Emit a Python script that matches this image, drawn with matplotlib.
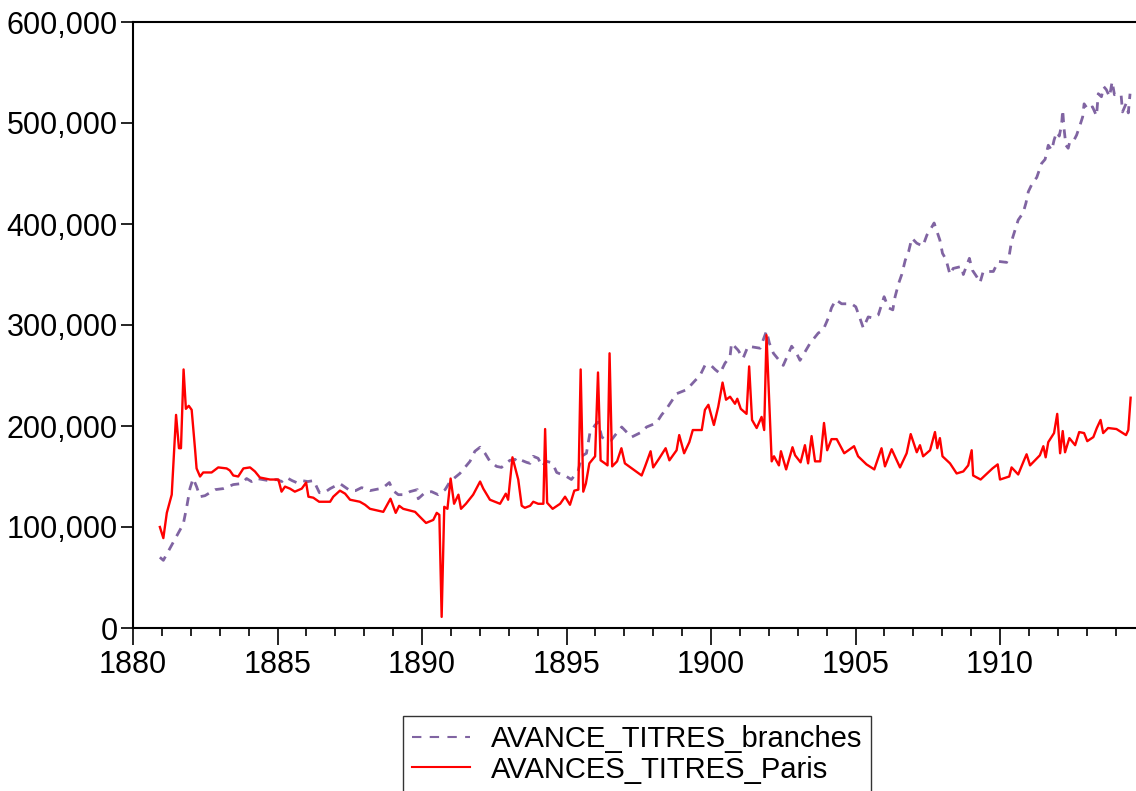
import numpy as np
import matplotlib
matplotlib.use("Agg")
import matplotlib.pyplot as plt
from matplotlib.ticker import FuncFormatter, MultipleLocator

plt.rcParams['font.family'] = ['Liberation Sans', 'DejaVu Sans']

# monthly advances on securities, thousands of francs
paris_years = [1880.93, 1881.05, 1881.17, 1881.34, 1881.49, 1881.59, 1881.66, 1881.75, 1881.83, 1881.93,
               1882.03, 1882.15, 1882.20, 1882.32, 1882.43, 1882.72, 1882.95, 1883.24, 1883.35, 1883.47,
               1883.64, 1883.82, 1884.05, 1884.22, 1884.39, 1884.74, 1885.03, 1885.14, 1885.26, 1885.43,
               1885.60, 1885.84, 1885.99, 1886.07, 1886.24, 1886.44, 1886.64, 1886.82, 1886.93, 1887.16,
               1887.34, 1887.51, 1887.85, 1888.03, 1888.20, 1888.66, 1888.91, 1889.09, 1889.21, 1889.35,
               1889.76, 1889.93, 1890.14, 1890.39, 1890.51, 1890.60, 1890.68, 1890.77, 1890.88, 1890.99,
               1891.11, 1891.26, 1891.35, 1891.52, 1891.77, 1892.01, 1892.12, 1892.35, 1892.70, 1892.90,
               1892.98, 1893.13, 1893.33, 1893.45, 1893.56, 1893.74, 1893.85, 1894.02, 1894.20, 1894.26,
               1894.33, 1894.52, 1894.78, 1894.95, 1895.12, 1895.27, 1895.41, 1895.49, 1895.58, 1895.67,
               1895.79, 1895.99, 1896.09, 1896.18, 1896.33, 1896.42, 1896.49, 1896.58, 1896.75, 1896.90,
               1897.02, 1897.31, 1897.60, 1897.72, 1897.91, 1898.00, 1898.21, 1898.43, 1898.56, 1898.81,
               1898.90, 1899.07, 1899.25, 1899.37, 1899.68, 1899.79, 1899.91, 1900.10, 1900.25, 1900.40,
               1900.52, 1900.66, 1900.83, 1900.91, 1901.03, 1901.23, 1901.32, 1901.42, 1901.58, 1901.75,
               1901.84, 1901.92, 1902.10, 1902.18, 1902.35, 1902.42, 1902.60, 1902.82, 1902.91, 1903.10,
               1903.25, 1903.36, 1903.48, 1903.60, 1903.78, 1903.91, 1904.02, 1904.17, 1904.35, 1904.61,
               1904.95, 1905.09, 1905.38, 1905.65, 1905.90, 1906.02, 1906.25, 1906.54, 1906.77, 1906.91,
               1907.12, 1907.23, 1907.34, 1907.58, 1907.75, 1907.83, 1907.92, 1908.01, 1908.27, 1908.50,
               1908.73, 1908.90, 1909.02, 1909.07, 1909.33, 1909.74, 1909.92, 1910.00, 1910.32, 1910.40,
               1910.63, 1910.83, 1910.92, 1911.04, 1911.38, 1911.50, 1911.58, 1911.67, 1911.87, 1911.98,
               1912.08, 1912.17, 1912.25, 1912.40, 1912.60, 1912.74, 1912.91, 1913.02, 1913.23, 1913.35,
               1913.48, 1913.57, 1913.74, 1914.03, 1914.36, 1914.44, 1914.52]
paris_vals = [100, 89, 114, 132, 211, 178, 178, 256, 217, 220,
              216, 176, 158, 150, 154, 154, 159, 158, 156, 151,
              150, 158, 159, 155, 149, 147, 147, 135, 140, 138,
              135, 138, 144, 130, 129, 125, 125, 125, 130, 136,
              133, 127, 125, 122, 118, 115, 128, 114, 121, 118,
              115, 110, 104, 107, 114, 112, 11, 120, 118, 148,
              123, 132, 118, 123, 132, 145, 138, 127, 123, 133,
              127, 169, 147, 121, 119, 121, 125, 123, 123, 197,
              124, 118, 123, 130, 122, 136, 137, 256, 135, 143,
              163, 170, 253, 166, 163, 161, 272, 160, 165, 178,
              163, 157, 151, 160, 175, 159, 168, 178, 166, 176,
              191, 173, 184, 196, 196, 216, 221, 201, 219, 243,
              226, 229, 222, 227, 217, 212, 259, 206, 198, 209,
              196, 290, 165, 170, 161, 175, 157, 179, 171, 164,
              181, 163, 190, 165, 165, 203, 176, 187, 187, 173,
              180, 170, 162, 157, 178, 160, 177, 159, 173, 192,
              174, 181, 170, 176, 194, 178, 188, 170, 163, 153,
              155, 161, 176, 151, 147, 158, 162, 147, 150, 159,
              152, 166, 172, 161, 171, 180, 169, 184, 193, 212,
              173, 195, 174, 188, 181, 194, 193, 185, 189, 198,
              206, 193, 198, 197, 191, 196, 228]

branch_years = [1880.93, 1881.05, 1881.28, 1881.57, 1881.74, 1881.86, 1881.97, 1882.08, 1882.20, 1882.32,
                1882.49, 1882.66, 1882.84, 1883.12, 1883.29, 1883.47, 1883.76, 1883.93, 1884.10, 1884.28,
                1884.68, 1884.97, 1885.15, 1885.31, 1885.50, 1885.66, 1885.83, 1886.05, 1886.26, 1886.35,
                1886.45, 1886.62, 1886.82, 1887.16, 1887.51, 1887.70, 1887.91, 1888.20, 1888.55, 1888.70,
                1888.87, 1889.00, 1889.18, 1889.40, 1889.58, 1889.84, 1889.87, 1890.10, 1890.33, 1890.56,
                1890.80, 1890.97, 1891.31, 1891.66, 1891.83, 1892.01, 1892.18, 1892.35, 1892.58, 1892.75,
                1892.87, 1893.04, 1893.22, 1893.32, 1893.45, 1893.62, 1893.74, 1893.85, 1894.02, 1894.15,
                1894.31, 1894.45, 1894.55, 1894.66, 1895.00, 1895.17, 1895.41, 1895.52, 1895.69, 1895.81,
                1895.99, 1896.10, 1896.22, 1896.39, 1896.55, 1896.74, 1896.91, 1897.08, 1897.25, 1897.60,
                1897.77, 1898.11, 1898.29, 1898.46, 1898.81, 1899.16, 1899.45, 1899.62, 1899.79, 1900.00,
                1900.14, 1900.31, 1900.48, 1900.66, 1900.71, 1900.94, 1901.11, 1901.28, 1901.70, 1901.92,
                1902.02, 1902.16, 1902.50, 1902.79, 1902.96, 1903.08, 1903.43, 1903.71, 1903.88, 1904.06,
                1904.17, 1904.32, 1904.52, 1904.86, 1905.01, 1905.15, 1905.27, 1905.44, 1905.59, 1905.79,
                1905.99, 1906.14, 1906.29, 1906.37, 1906.49, 1906.60, 1906.72, 1906.84, 1906.95, 1907.12,
                1907.33, 1907.47, 1907.58, 1907.72, 1907.92, 1908.01, 1908.13, 1908.27, 1908.38, 1908.67,
                1908.73, 1908.94, 1909.05, 1909.19, 1909.31, 1909.42, 1909.77, 1909.94, 1910.23, 1910.32,
                1910.40, 1910.52, 1910.63, 1910.80, 1910.90, 1910.98, 1911.13, 1911.27, 1911.44, 1911.56,
                1911.67, 1911.79, 1911.87, 1911.96, 1912.05, 1912.13, 1912.17, 1912.21, 1912.28, 1912.36,
                1912.42, 1912.56, 1912.65, 1912.77, 1912.86, 1912.91, 1913.05, 1913.20, 1913.34, 1913.40,
                1913.51, 1913.59, 1913.68, 1913.79, 1913.88, 1913.96, 1914.07, 1914.19, 1914.24, 1914.36,
                1914.44, 1914.50]
branch_vals = [70, 67, 79, 94, 103, 120, 138, 148, 140, 130,
               131, 134, 137, 138, 140, 142, 143, 148, 145, 148,
               146, 147, 145, 149, 146, 144, 146, 145, 146, 140,
               134, 134, 138, 143, 136, 136, 139, 136, 138, 140,
               144, 136, 132, 132, 135, 137, 128, 134, 135, 132,
               137, 145, 153, 165, 175, 179, 173, 165, 160, 159,
               162, 166, 167, 164, 166, 164, 163, 170, 168, 160,
               165, 164, 161, 154, 150, 147, 156, 170, 173, 193,
               201, 204, 189, 186, 186, 193, 199, 194, 189, 194,
               199, 203, 211, 217, 232, 236, 245, 250, 260, 260,
               256, 252, 262, 269, 282, 275, 267, 279, 277, 294,
               282, 272, 260, 279, 272, 265, 282, 292, 295, 307,
               317, 325, 321, 321, 318, 307, 297, 308, 307, 310,
               328, 317, 315, 328, 341, 350, 364, 373, 386, 381,
               378, 389, 394, 401, 384, 371, 365, 350, 356, 358,
               350, 366, 354, 348, 342, 353, 353, 363, 362, 369,
               383, 394, 404, 411, 421, 432, 441, 446, 460, 464,
               478, 473, 483, 491, 487, 498, 513, 496, 478, 475,
               482, 483, 488, 498, 506, 519, 513, 516, 507, 529,
               526, 536, 533, 526, 541, 528, 529, 528, 511, 519,
               510, 529]

fig = plt.figure(figsize=(11.36, 7.91), dpi=100)
# plot area runs off the right edge of the figure
ax = fig.add_axes([133 / 1136, 163 / 791, (1142 - 133) / 1136, (628 - 22) / 791])

ax.plot(branch_years, np.array(branch_vals) * 1000, color='#8064A2', lw=2.0,
        dashes=(3.2, 2.6), label='AVANCE_TITRES_branches')
ax.plot(paris_years, np.array(paris_vals) * 1000, color='#FF0000', lw=1.7,
        label='AVANCES_TITRES_Paris')

ax.set_xlim(1880, 1880 + (1142 - 133) / 28.9)
ax.set_ylim(0, 600000)
ax.xaxis.set_major_locator(MultipleLocator(5))
ax.xaxis.set_minor_locator(MultipleLocator(1))
ax.yaxis.set_major_locator(MultipleLocator(100000))
ax.yaxis.set_major_formatter(FuncFormatter(lambda v, p: f"{int(v):,}"))

for side in ['left', 'top', 'bottom']:
    ax.spines[side].set_linewidth(1.5)
ax.spines['right'].set_visible(False)
ax.tick_params(axis='both', which='major', direction='out', labelsize=22, width=1.2)
ax.tick_params(axis='x', which='major', length=12, pad=4)
ax.tick_params(axis='x', which='minor', length=6, width=1.2)
ax.tick_params(axis='y', which='major', length=9, pad=2)

leg = fig.legend(loc='upper center', bbox_to_anchor=(637 / 1136, 1 - 716 / 791),
                 fontsize=21, frameon=True, fancybox=False, handlelength=2.0,
                 handletextpad=0.7, borderpad=0.3, labelspacing=0.1, borderaxespad=0)
leg.get_frame().set_edgecolor('black')
leg.get_frame().set_linewidth(1.0)
handles = leg.get_lines()
for h in handles:
    h.set_linewidth(1.5)
handles[0].set_dashes((4.5, 4))

fig.savefig('out.png', dpi=100)
